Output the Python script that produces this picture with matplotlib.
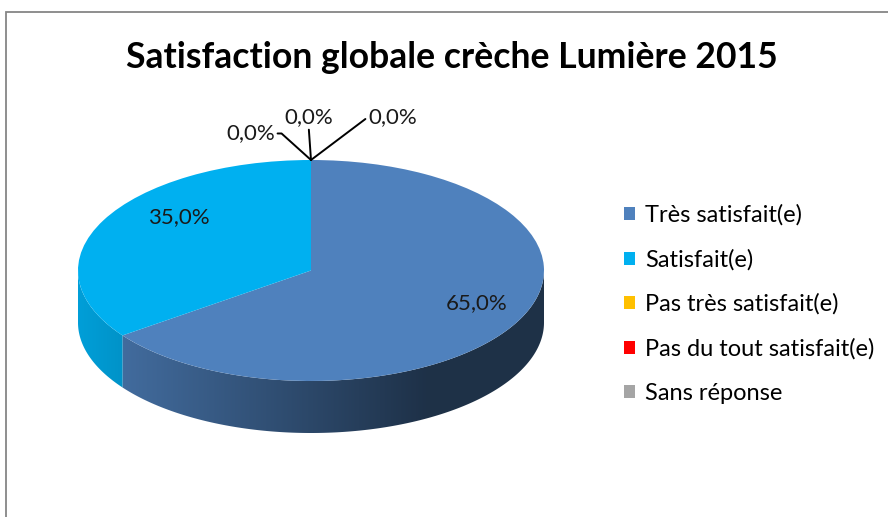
import numpy as np
import matplotlib.pyplot as plt
from matplotlib.colors import to_rgb
from matplotlib.patches import Rectangle, Polygon

plt.rcParams['font.family'] = ['Lato', 'DejaVu Sans']

# donnees
categories = ["Très satisfait(e)", "Satisfait(e)", "Pas très satisfait(e)",
              "Pas du tout satisfait(e)", "Sans réponse"]
values = [65.0, 35.0, 0.0, 0.0, 0.0]
colors = ["#4F81BD", "#00B0F0", "#FFC000", "#FF0000", "#A5A5A5"]
title = "Satisfaction globale crèche Lumière 2015"

# geometrie du camembert (pixels)
W, H = 888, 517
cx, cy = 311, 270.5      # centre de la face du dessus
rx, ry = 233, 110.5      # demi-axes
depth = 52 / ry          # epaisseur en unites
xlim = (-1.3, 1.3)
ylim = (-1.8, 1.5)

fig = plt.figure(figsize=(W / 100, H / 100), dpi=100)
left = (cx + xlim[0] * rx) / W
bottom = (H - (cy - ylim[0] * ry)) / H
ax = fig.add_axes([left, bottom, (xlim[1] - xlim[0]) * rx / W,
                   (ylim[1] - ylim[0]) * ry / H])

# face du dessus
wedges, _ = ax.pie(values, colors=colors, startangle=90, counterclock=False,
                   radius=1, wedgeprops=dict(linewidth=0))
for w in wedges:
    w.set_zorder(3)

# paroi avant avec degrade (plus sombre vers la droite)
total = sum(values)
cum = np.concatenate([[0], np.cumsum(values)])
gx = np.linspace(-1, 1, 300)
shade = np.clip(0.9 - (gx + 1) * 0.347, 0.38, None)
for i, v in enumerate(values):
    if v == 0:
        continue
    t0 = np.radians(90 - 360 * cum[i + 1] / total)
    t1 = np.radians(90 - 360 * cum[i] / total)
    ts = np.linspace(t0, t1, 600)
    ts = ts[np.sin(ts) <= 0]
    if len(ts) < 2:
        continue
    xs, ys = np.cos(ts), np.sin(ts)
    pts = np.column_stack([np.r_[xs, xs[::-1]], np.r_[ys, ys[::-1] - depth]])
    clip = Polygon(pts, closed=True, facecolor='none', edgecolor='none')
    ax.add_patch(clip)
    base = np.array(to_rgb(colors[i]))
    grad = shade[None, :, None] * base[None, None, :]
    im = ax.imshow(grad, extent=(-1, 1, -1 - depth - 0.05, 0.05),
                   aspect='auto', interpolation='bilinear', zorder=2)
    im.set_clip_path(clip)

ax.set_aspect('auto')
ax.set_xlim(*xlim)
ax.set_ylim(*ylim)
ax.axis('off')

# etiquettes des pourcentages
mid = [np.radians(90 - 360 * (cum[i] + cum[i + 1]) / 2 / total) for i in range(len(values))]
lab_r = [0.8, 0.636]
lab_dy = [0.07, 0.195]
for i in range(2):
    ax.text(lab_r[i] * np.cos(mid[i]), lab_r[i] * np.sin(mid[i]) + lab_dy[i],
            f"{values[i]:.1f}".replace(".", ",") + "%", ha='center', va='center',
            fontsize=16, color='#1a1a1a', zorder=5)

# etiquettes 0,0% avec lignes de rappel
top = (np.cos(mid[2]), np.sin(mid[2]))
zero_txt = [(-0.26, 1.24), (-0.01, 1.39), (0.35, 1.39)]
zero_rel = [(1, 0.5), (0.5, 0), (0, 0.5)]
zero_conn = ['angle,angleA=0,angleB=-42,rad=0', 'arc3', 'angle,angleA=0,angleB=37,rad=0']
for j, i in enumerate(range(2, 5)):
    ax.annotate(f"{values[i]:.1f}".replace(".", ",") + "%", xy=top,
                xytext=zero_txt[j], ha='center', va='center', fontsize=16,
                color='#1a1a1a', zorder=5,
                arrowprops=dict(arrowstyle='-', color='black', lw=1.4,
                                relpos=zero_rel[j], connectionstyle=zero_conn[j],
                                shrinkA=0, shrinkB=0))

# titre
fig.text(452 / W, 1 - 57 / H, title, ha='center', va='center',
         fontsize=25.6, fontweight='bold')

# legende
fig.legend(wedges, categories, loc='upper left',
           bbox_to_anchor=(603 / W, 1 - 183 / H), frameon=False,
           fontsize=17, handlelength=0.47, handleheight=0.47,
           handletextpad=0.4, labelspacing=0.98)

# cadre
fig.add_artist(Rectangle((6 / W, -0.5), 2, 1.5 - 12 / H, transform=fig.transFigure,
                         fill=False, edgecolor='#868686', lw=1.3))

plt.savefig("out.png", dpi=100)
